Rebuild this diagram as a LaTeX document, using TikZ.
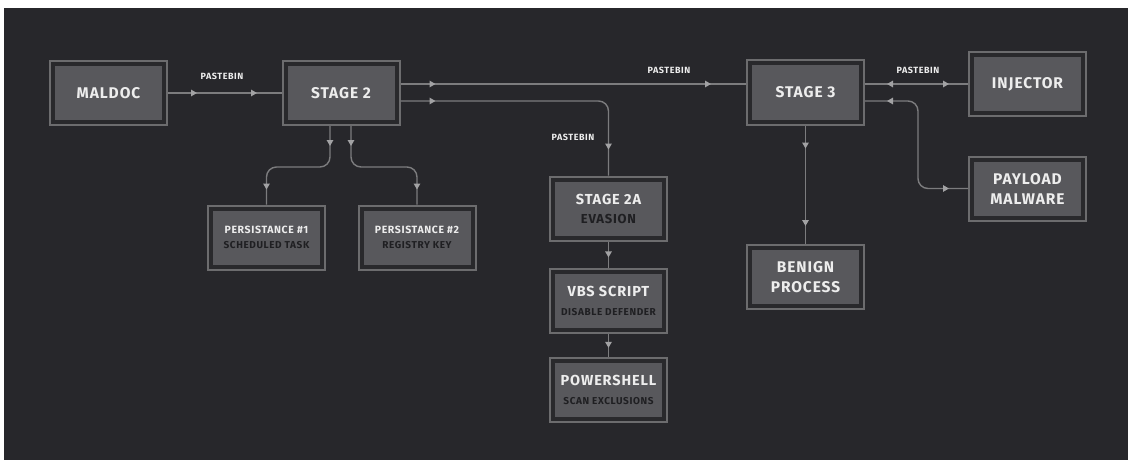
\documentclass[tikz,border=0pt]{standalone}
\usepackage{fontspec}
\setmainfont{Fira Sans}[LetterSpace=6]
\usetikzlibrary{arrows.meta,decorations.markings}

\definecolor{canvas}{HTML}{27272B}
\definecolor{rim}{HTML}{6C6C6E}
\definecolor{gapfill}{HTML}{29292C}
\definecolor{core}{HTML}{58585C}
\definecolor{wire}{HTML}{7C7C7E}
\definecolor{tipc}{HTML}{A2A2A4}
\definecolor{titlec}{HTML}{EDEDED}
\definecolor{subc}{HTML}{1F1F22}

\tikzset{
  box/.style={draw=rim, line width=2pt, fill=gapfill,
    minimum width=117pt, minimum height=64pt, inner sep=0pt,
    align=center, text=titlec, font=\bfseries\fontsize{15.5}{20}\selectfont,
    path picture={\fill[core]
      ([shift={(5pt,5pt)}]path picture bounding box.south west) rectangle
      ([shift={(-5pt,-5pt)}]path picture bounding box.north east);}},
  midbox/.style={box, font=\bfseries\fontsize{14.5}{18}\selectfont},
  smallbox/.style={box, font=\bfseries\fontsize{10.5}{14}\selectfont},
  wirepath/.style={draw=wire, line width=1.4pt},
  fwd/.style={postaction={decorate, decoration={markings,
    mark=at position #1 with {\arrow{Triangle[length=6pt,width=6.5pt,color=tipc]}}}}},
  bwd/.style={postaction={decorate, decoration={markings,
    mark=at position #1 with {\arrowreversed{Triangle[length=6pt,width=6.5pt,color=tipc]}}}}},
  tag/.style={text=titlec, font=\bfseries\fontsize{9}{11}\selectfont, inner sep=0pt},
}
% second, darker line of a box label: optional size, then text
\newcommand{\subline}[2][10]{\\[1pt]{\color{subc}\fontsize{#1}{#1}\selectfont #2}}

\begin{document}
\begin{tikzpicture}[x=1pt, y=-1pt]
  % page and dark canvas
  \useasboundingbox (0,0) rectangle (1128,460);
  \fill[white] (0,0) rectangle (1128,460);
  \fill[canvas] (4,8) rectangle (1128,460);

  % boxes
  \node[box] (maldoc) at (108.5,93) {MALDOC};
  \node[box] (stage2) at (341,93) {STAGE 2};
  \node[smallbox] (pers1) at (266.5,237.5) {PERSISTANCE \#1\subline{SCHEDULED TASK}};
  \node[smallbox] (pers2) at (417,237.5) {PERSISTANCE \#2\subline{REGISTRY KEY}};
  \node[midbox] (stage2a) at (608.5,208.5) {STAGE 2A\subline[13]{EVASION}};
  \node[midbox] (vbs) at (608.5,301) {VBS SCRIPT\subline{DISABLE DEFENDER}};
  \node[midbox] (pwsh) at (608.5,390) {POWERSHELL\subline{SCAN EXCLUSIONS}};
  \node[box] (stage3) at (805.5,92.5) {STAGE 3};
  \node[box] (injector) at (1027.5,84) {INJECTOR};
  \node[box] (payload) at (1027.5,188.5) {PAYLOAD\\MALWARE};
  \node[box] (benign) at (805.5,277) {BENIGN\\PROCESS};

  % labels
  \node[tag] (lbl1) at (222,76) {PASTEBIN};
  \node[tag] (lbl2) at (669,70) {PASTEBIN};
  \node[tag] (lbl3) at (573,137) {PASTEBIN};
  \node[tag] (lbl4) at (918,70) {PASTEBIN};

  % connectors
  \draw[wirepath, fwd=29pt, fwd=89pt] (maldoc.east) -- (stage2.west);

  \coordinate (s2hi) at ([yshift=9pt]stage2.east);
  \coordinate (s2lo) at ([yshift=-8pt]stage2.east);
  \draw[wirepath, fwd=35pt, fwd=-35pt] (s2hi) -- (s2hi -| stage3.west);
  \draw[wirepath, rounded corners=10pt, fwd=35pt, fwd=-26pt] (s2lo) -| (stage2a.north);

  \coordinate (s2l) at ([xshift=-11pt]stage2.south);
  \coordinate (s2r) at ([xshift=10pt]stage2.south);
  \draw[wirepath, rounded corners=10pt, fwd=20pt, fwd=-15pt]
    (s2l) -- (s2l |- 0,167) -- (pers1.north |- 0,167) -- (pers1.north);
  \draw[wirepath, rounded corners=10pt, fwd=20pt, fwd=-15pt]
    (s2r) -- (s2r |- 0,167) -- (pers2.north |- 0,167) -- (pers2.north);

  \draw[wirepath, fwd=0.6] (stage2a.south) -- (vbs.north);
  \draw[wirepath, fwd=0.6] (vbs.south) -- (pwsh.north);

  \coordinate (s3hi) at ([yshift=8.5pt]stage3.east);
  \coordinate (s3lo) at ([yshift=-8.5pt]stage3.east);
  \draw[wirepath, bwd=22pt, fwd=-19pt] (s3hi) -- (injector.west);
  \draw[wirepath, rounded corners=10pt, bwd=22pt, fwd=-19pt]
    (s3lo) -- (918,101) -- (918,188.5) -- (payload.west);

  \draw[wirepath, fwd=23pt, fwd=-18pt] (stage3.south) -- (benign.north);
\end{tikzpicture}
\end{document}
